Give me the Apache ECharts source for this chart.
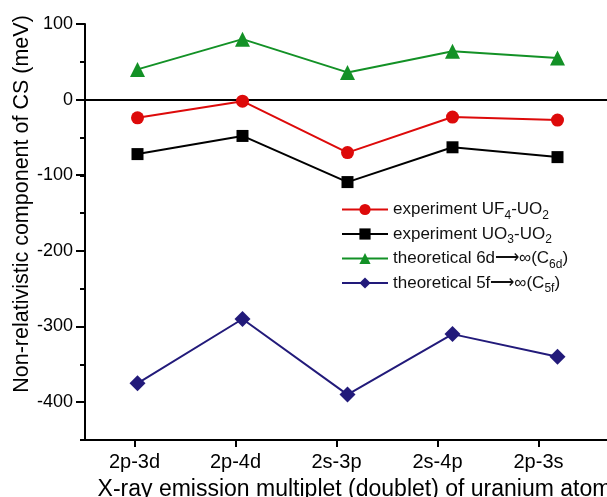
<!DOCTYPE html>
<html><head><meta charset="utf-8">
<script src="https://cdn.jsdelivr.net/npm/echarts@6/dist/echarts.min.js"></script>
<style>html,body{margin:0;padding:0;background:#fff}#c{width:607px;height:497px}</style>
</head><body><div id="c"></div>
<script>
const categories = ['2p-3d', '2p-4d', '2s-3p', '2s-4p', '2p-3s'];
const uf4 = [-24, -2, -70, -23, -27];
const uo3 = [-72, -48, -109, -63, -76];
const th6d = [40, 80, 36, 64, 55];
const th5f = [-375, -290, -390, -310, -340];
const yTicks = [100, 0, -100, -200, -300, -400];
const names = ['experiment UF4-UO2', 'experiment UO3-UO2', 'theoretical 6d\u27F6\u221E(C6d)', 'theoretical 5f\u27F6\u221E(C5f)'];
const richNames = {
  'experiment UF4-UO2': 'experiment UF{s|4}-UO{s|2}',
  'experiment UO3-UO2': 'experiment UO{s|3}-UO{s|2}',
  'theoretical 6d\u27F6\u221E(C6d)': 'theoretical 6d\u27F6\u221E(C{s|6d})',
  'theoretical 5f\u27F6\u221E(C5f)': 'theoretical 5f\u27F6\u221E(C{s|5f})'
};
const FONT = '"Liberation Sans", Arial, sans-serif';
const chart = echarts.init(document.getElementById('c'));
const mk = (name, data, color, symbol, size) => ({
  name, type: 'line', data, xAxisIndex: 0, yAxisIndex: 0,
  symbol, symbolSize: size, showSymbol: true,
  lineStyle: { color, width: 2 }, itemStyle: { color }, z: 5
});
const s0 = mk(names[0], uf4, '#dd0a0a', 'circle', 13);
s0.markLine = { silent: true, symbol: 'none', label: { show: false },
  lineStyle: { color: '#000', width: 2, type: 'solid' }, data: [{ yAxis: 0 }], z: 1 };
const gbase = { containLabel: false, outerBoundsMode: 'none' };
chart.setOption({
  animation: false,
  textStyle: { fontFamily: FONT },
  grid: [
    Object.assign({ left: 85, top: 24, width: 525, height: 416 }, gbase),
    Object.assign({ left: 85, top: 24, width: 505, height: 378 }, gbase),
    Object.assign({ left: 84, top: 24, width: 505, height: 416 }, gbase)
  ],
  legend: {
    orient: 'vertical', left: 336, top: 196, itemWidth: 46, itemHeight: 14, itemGap: 4,
    data: names,
    formatter: n => richNames[n],
    textStyle: { fontFamily: FONT, fontSize: 17, color: '#111',
      rich: { s: { fontSize: 12, fontFamily: FONT, padding: [12, 0, 0, 0], color: '#111' } } }
  },
  xAxis: [
    { type: 'category', gridIndex: 0, data: categories, boundaryGap: true,
      axisLine: { onZero: false, lineStyle: { color: '#000', width: 2 } },
      axisTick: { show: false }, axisLabel: { show: false }, splitLine: { show: false } },
    { type: 'category', gridIndex: 1, data: categories, show: false },
    { type: 'category', gridIndex: 2, data: categories, boundaryGap: true,
      axisLine: { show: false, onZero: false },
      axisTick: { show: true, alignWithLabel: true, length: 7, lineStyle: { color: '#000', width: 2 } },
      axisLabel: { fontSize: 20, color: '#000', margin: 12, fontFamily: FONT },
      name: 'X-ray emission multiplet (doublet) of uranium atom', nameLocation: 'middle', nameGap: 38,
      nameMoveOverlap: false,
      nameTextStyle: { fontSize: 23, color: '#000', fontFamily: FONT, padding: [0, 0, 0, 36] } }
  ],
  yAxis: [
    { type: 'value', gridIndex: 0, min: -450, max: 100, interval: 50,
      axisLine: { show: true, lineStyle: { color: '#000', width: 2 } },
      axisTick: { show: true, length: 5, lineStyle: { color: '#000', width: 2 } },
      axisLabel: { show: false }, splitLine: { show: false } },
    { type: 'value', gridIndex: 1, min: yTicks[yTicks.length - 1], max: yTicks[0], interval: 100,
      axisLine: { show: false },
      axisTick: { show: true, length: 9, lineStyle: { color: '#000', width: 2 } },
      axisLabel: { fontSize: 18, color: '#000', margin: 12, fontFamily: FONT },
      splitLine: { show: false },
      name: 'Non-relativistic component of CS (meV)', nameLocation: 'middle', nameGap: 52,
      nameMoveOverlap: false,
      nameTextStyle: { fontSize: 21.5, color: '#000', fontFamily: FONT, padding: [0, 0, 0, 18] } },
    { type: 'value', gridIndex: 2, min: -450, max: 100, show: false }
  ],
  series: [
    s0,
    mk(names[1], uo3, '#000000', 'rect', 12),
    mk(names[2], th6d, '#139126', 'triangle', 15),
    mk(names[3], th5f, '#221a7a', 'diamond', 16)
  ]
});
</script></body></html>
